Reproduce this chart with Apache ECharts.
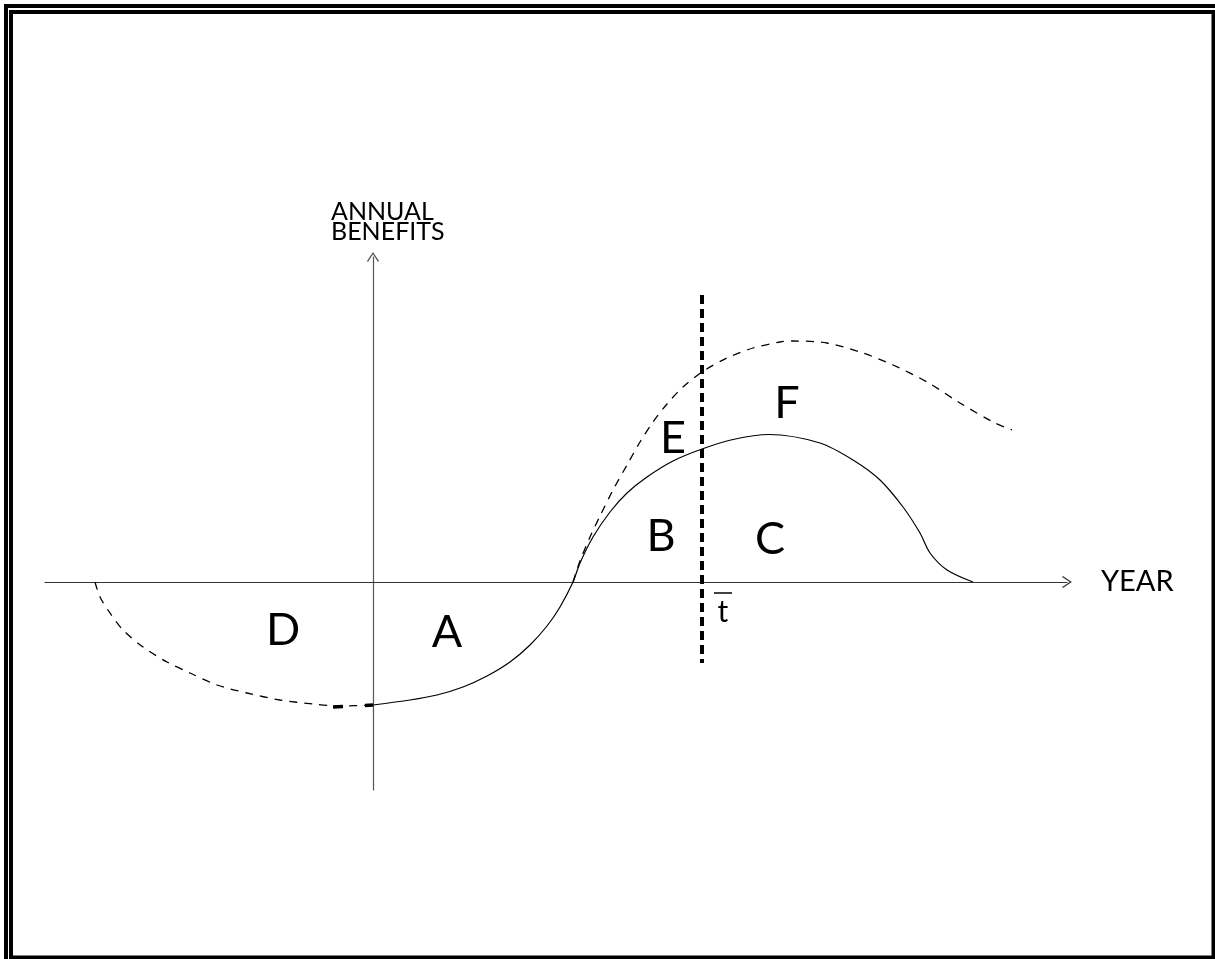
<!DOCTYPE html>
<html>
<head>
<meta charset="utf-8">
<script src="https://cdn.jsdelivr.net/npm/echarts@6/dist/echarts.min.js"></script>
<style>
  html, body { margin: 0; padding: 0; background: #fff; }
  #chart { width: 1215px; height: 959px; }
</style>
</head>
<body>
<div id="chart"></div>
<script>
// benefit curve with the project (solid)
var benefitCurve = [
  [0, -12.3], [3.7, -11.8], [6.4, -11.3], [9.0, -10.5], [11.4, -9.4], [13.7, -8.0],
  [15.7, -6.3], [17.4, -4.4], [18.7, -2.5], [20.0, 0], [20.7, 1.9], [22.0, 4.5],
  [23.7, 7.0], [25.4, 8.9], [27.4, 10.5], [30.0, 12.1], [32.9, 13.3], [36.0, 14.25],
  [39.6, 14.75], [44.7, 13.9], [48.0, 12.2], [50.7, 10.2], [53.0, 7.5],
  [54.7, 4.9], [55.7, 2.9], [57.4, 1.2], [60.0, 0]
];
// earlier start (dashed, left of the axis)
var earlyCurve = [
  [-27.8, 0], [-27.3, -1.5], [-26.3, -3.1], [-25.0, -4.8], [-23.0, -6.5], [-20.6, -8.0],
  [-18.3, -9.1], [-15.6, -10.3], [-12.6, -11.1], [-9.3, -11.8], [-6.0, -12.2], [-3.3, -12.4], [0, -12.3]
];
// heavy dashes where the two curves meet
var joinMark = [[-4.0, -12.5], [0, -12.3]];
// higher benefit stream (dashed)
var higherCurve = [
  [20.0, 0], [20.7, 2.1], [21.7, 4.5], [22.7, 6.6], [24.0, 9.2], [25.4, 11.7],
  [26.7, 14.0], [28.0, 16.0], [29.4, 17.8], [31.0, 19.5], [32.9, 21.0], [35.4, 22.4],
  [38.0, 23.4], [40.7, 24.0], [42.0, 24.1], [45.4, 23.9], [48.7, 23.0], [52.0, 21.7],
  [55.4, 20.0], [58.7, 17.9], [62.0, 16.0], [63.9, 15.2]
];
// t-bar cut line
var cutLine = [[32.9, 28.7], [32.9, -8.1]];
var tBarMark = [[34.1, -1.1], [35.9, -1.1]];
// area labels
var areaLabels = [
  ['A', 7.4, -5.0], ['D', -9.0, -4.8], ['B', 28.8, 4.6], ['E', 30.0, 14.4],
  ['C', 39.7, 4.3], ['F', 41.4, 17.9]
];
var tLabel = [['t', 35.0, -3.0]];

var chart = echarts.init(document.getElementById('chart'));
var font = 'Lato';
var arrow = 'path://M0 0L6 9L5 9.8L0 2.2L-5 9.8L-6 9Z';

chart.setOption({
  animation: false,
  backgroundColor: '#fff',
  grid: { left: 45, top: 257, width: 1022, height: 533 },
  xAxis: {
    type: 'value', min: -32.8, max: 69.4,
    name: 'YEAR', nameLocation: 'end', nameGap: 34,
    nameTextStyle: { fontFamily: font, fontSize: 29, color: '#000', padding: [0, 0, 14, 0] },
    axisLine: { onZero: true, symbol: ['none', arrow], symbolSize: [12, 10],
      lineStyle: { color: '#333', width: 1.2 } },
    axisTick: { show: false }, axisLabel: { show: false }, splitLine: { show: false }
  },
  yAxis: {
    type: 'value', min: -20.8, max: 32.5,
    name: 'ANNUAL\nBENEFITS', nameLocation: 'end', nameGap: 15,
    nameTextStyle: { fontFamily: font, fontSize: 25, lineHeight: 20, color: '#000',
      align: 'left', padding: [0, 0, 0, -42] },
    axisLine: { onZero: true, symbol: ['none', arrow], symbolSize: [12, 10],
      lineStyle: { color: '#555', width: 1.2 } },
    axisTick: { show: false }, axisLabel: { show: false }, splitLine: { show: false }
  },
  graphic: [
    { type: 'rect', shape: { x: 6, y: 6, width: 1213, height: 957 },
      style: { fill: 'none', stroke: '#000', lineWidth: 4 } },
    { type: 'rect', shape: { x: 11, y: 12, width: 1202.5, height: 945.5 },
      style: { fill: 'none', stroke: '#000', lineWidth: 4 } }
  ],
  series: [
    { type: 'line', data: benefitCurve, smooth: 0.3, showSymbol: false,
      lineStyle: { color: '#000', width: 1.2 } },
    { type: 'line', data: earlyCurve, smooth: 0.3, showSymbol: false,
      lineStyle: { color: '#000', width: 1.3, type: [8, 7] } },
    { type: 'line', data: joinMark, showSymbol: false,
      lineStyle: { color: '#000', width: 3.5, type: [10, 22] } },
    { type: 'line', data: higherCurve, smooth: 0.3, showSymbol: false,
      lineStyle: { color: '#000', width: 1.3, type: [8, 7] } },
    { type: 'line', data: cutLine, showSymbol: false,
      lineStyle: { color: '#000', width: 4, type: [9, 5] } },
    { type: 'line', data: tBarMark, showSymbol: false,
      lineStyle: { color: '#000', width: 1.5 } },
    { type: 'scatter', symbolSize: 0, itemStyle: { opacity: 1 },
      data: areaLabels.concat(tLabel).map(function (d) {
        return { name: d[0], value: [d[1], d[2]],
          label: { fontSize: d[0] === 't' ? 30 : 45, color: '#000' } };
      }),
      label: { show: true, position: 'inside', formatter: '{b}', color: '#000',
        fontFamily: font } }
  ]
});
</script>
</body>
</html>
